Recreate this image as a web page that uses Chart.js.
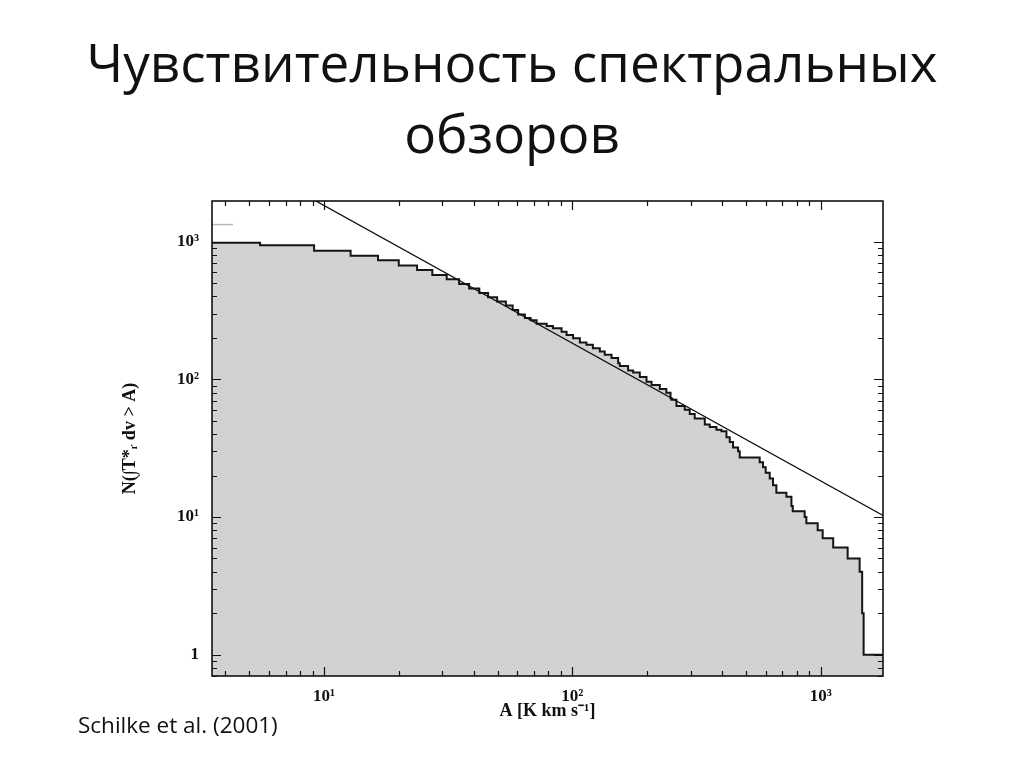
<!DOCTYPE html>
<html>
<head>
<meta charset="utf-8">
<script src="https://cdn.jsdelivr.net/npm/chart.js@4"></script>
<style>
  html, body { margin: 0; padding: 0; background: #fff; }
  #wrap { position: relative; width: 1024px; height: 768px; overflow: hidden; }
  #c { position: absolute; left: 0; top: 0; }
  #title { position: absolute; left: 0; top: 26px; width: 1024px; text-align: center;
           font-family: "Open Sans", sans-serif; font-size: 53px; line-height: 71px; color: #111; }
  #src { position: absolute; left: 78px; top: 709px; font-family: "Open Sans", sans-serif;
         font-size: 22.5px; color: #111; white-space: nowrap; }
</style>
</head>
<body>
<div id="wrap">
  <canvas id="c" width="1024" height="768"></canvas>
  <div id="title">Чувствительность спектральных<br>обзоров</div>
  <div id="src">Schilke et al. (2001)</div>
</div>
<script>
// ---- data (cumulative line counts N(>A)) ----
const stepA = [3.54, 5.53, 9.12, 12.8, 16.5, 20.0, 23.7, 27.3, 31.2, 35.0, 38.4, 42.2, 45.8, 49.8,
  54.0, 57.5, 60.5, 64.4, 67.9, 71.8, 78.8, 83.5, 90.5, 94.8, 100.7, 107.2, 114, 121, 129, 135,
  143.8, 152.9, 155.3, 167.7, 175.7, 186.9, 198.9, 208.4, 225, 239, 248.5, 250.7, 262.6, 283.6,
  297, 311, 341.5, 357.6, 380.4, 398.5, 417.4, 430.4, 443.8, 464.8, 472, 568, 586, 600.6, 623.4,
  642.8, 663, 727.8, 762.4, 771.6, 862, 875.8, 972.5, 1018.6, 1123, 1284, 1435, 1469, 1489, 1503, 1782];
const stepN = [1005, 983, 942, 860, 791, 733, 672, 623, 573, 532, 493, 457, 424, 395,
  368, 343, 319, 296, 279, 268, 253, 244, 235, 222, 210, 199, 185, 178, 168, 159,
  151, 143, 131, 125, 116, 112, 104, 96, 91, 85, 80, 73, 71, 64,
  60, 56, 52, 47, 45, 43, 42, 38, 35, 32, 30, 27, 25, 23, 21,
  19, 17, 15, 14, 12, 11, 10, 9, 8, 7, 6, 5, 4, 2, 1, 1];
// power-law fit N = C / A
const fitA = [3.54, 1782];
const fitN = [5170, 10.27];
// short grey mark at top-left
const markA = [3.54, 4.3];
const markN = [1330, 1330];
// axes
const xMin = 3.54, xMax = 1782, yMin = 0.70, yMax = 1973;
const xTickVals = [10, 100, 1000];
const xTickLabels = ['10¹', '10²', '10³'];
const yTickVals = [1, 10, 100, 1000];
const yTickLabels = ['1', '10¹', '10²', '10³'];
const xTitle = 'A [K km s⁻¹]';
const yTitle = 'N(∫T*ᵣ dv > A)';

const zip = (a, b) => a.map((v, i) => ({ x: v, y: b[i] }));

function minorTicks(lo, hi) {
  const out = [];
  for (let e = -1; e <= 4; e++) {
    const d = Math.pow(10, e);
    for (let m = 1; m <= 9; m++) {
      const v = d * m;
      if (v >= lo && v <= hi) out.push({ v, major: m === 1 });
    }
  }
  return out;
}

const frameTicks = {
  id: 'frameTicks',
  afterDatasetsDraw(chart) {
    const { ctx, chartArea: a, scales: { x, y } } = chart;
    ctx.save();
    ctx.strokeStyle = '#111';
    ctx.lineWidth = 1.2;
    ctx.beginPath();
    minorTicks(xMin, xMax).forEach(t => {
      const p = Math.round(x.getPixelForValue(t.v)) + 0.5;
      const L = t.major ? 9 : 5;
      ctx.moveTo(p, a.bottom); ctx.lineTo(p, a.bottom - L);
      ctx.moveTo(p, a.top); ctx.lineTo(p, a.top + L);
    });
    minorTicks(yMin, yMax).forEach(t => {
      const p = Math.round(y.getPixelForValue(t.v)) + 0.5;
      const L = t.major ? 9 : 5;
      ctx.moveTo(a.left, p); ctx.lineTo(a.left + L, p);
      ctx.moveTo(a.right, p); ctx.lineTo(a.right - L, p);
    });
    ctx.stroke();
    ctx.lineWidth = 1.6;
    ctx.strokeRect(a.left, a.top, a.right - a.left, a.bottom - a.top);
    ctx.restore();
  }
};

const tickFont = { family: '"Liberation Serif", serif', size: 17, weight: 'bold' };
const titleFont = { family: '"Liberation Serif", serif', size: 18, weight: 'bold' };

new Chart(document.getElementById('c'), {
  type: 'line',
  data: {
    datasets: [
      { label: 'fit', data: zip(fitA, fitN), borderColor: '#111', borderWidth: 1.3,
        pointRadius: 0, fill: false, order: 0 },
      { label: 'mark', data: zip(markA, markN), borderColor: '#b8b8b8', borderWidth: 1.5,
        pointRadius: 0, fill: false, order: 1 },
      { label: 'N(>A)', data: zip(stepA, stepN), stepped: 'after', borderColor: '#151515',
        borderWidth: 2, pointRadius: 0, fill: 'start', backgroundColor: '#d2d2d2', order: 2 }
    ]
  },
  options: {
    responsive: false,
    animation: false,
    devicePixelRatio: 1,
    layout: { padding: { left: 118, right: 141, top: 201, bottom: 44 } },
    plugins: { legend: { display: false }, tooltip: { enabled: false } },
    scales: {
      x: {
        type: 'logarithmic', min: xMin, max: xMax,
        grid: { display: false }, border: { display: false },
        afterBuildTicks: s => { s.ticks = xTickVals.map(v => ({ value: v })); },
        afterFit: s => { s.height = 48; },
        ticks: { autoSkip: false, maxRotation: 0, padding: 2, color: '#111', font: tickFont,
                 callback: (v) => { const i = xTickVals.indexOf(v); return i >= 0 ? xTickLabels[i] : ''; } },
        title: { display: true, text: xTitle, color: '#111', font: titleFont, padding: { top: 0, bottom: 2 } }
      },
      y: {
        type: 'logarithmic', min: yMin, max: yMax,
        grid: { display: false }, border: { display: false },
        afterBuildTicks: s => { s.ticks = yTickVals.map(v => ({ value: v })); },
        afterFit: s => { s.width = 94; },
        ticks: { autoSkip: false, padding: 5, color: '#111', font: tickFont,
                 callback: (v) => { const i = yTickVals.indexOf(v); return i >= 0 ? yTickLabels[i] : ''; } },
        title: { display: true, text: yTitle, color: '#111', font: titleFont, padding: { top: 2, bottom: 0 } }
      }
    }
  },
  plugins: [frameTicks]
});
</script>
</body>
</html>
